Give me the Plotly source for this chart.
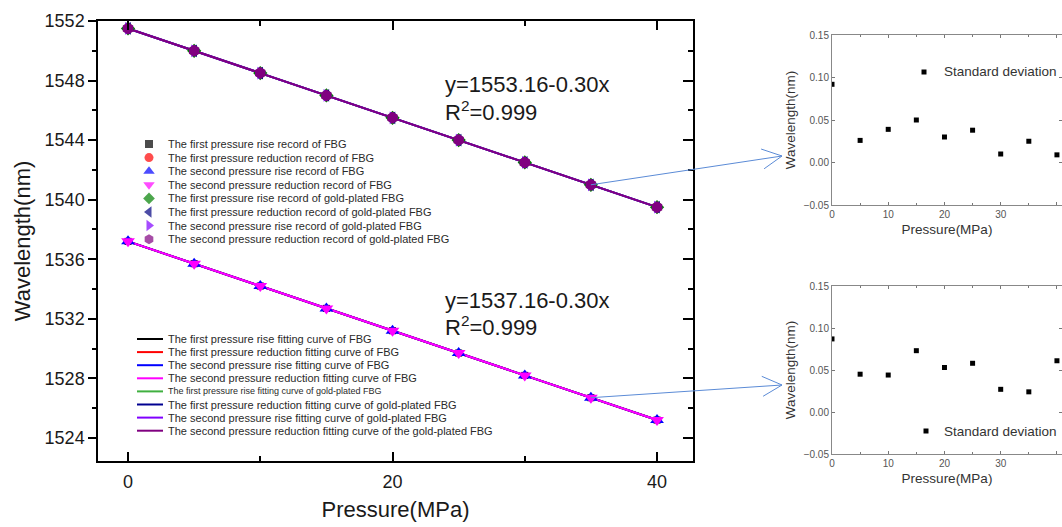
import math
import plotly.graph_objects as go

W, H = 1062, 527
FONT = "Liberation Sans, Arial, sans-serif"

# ---------------- data ----------------
pressure = [0, 5, 10, 15, 20, 25, 30, 35, 40]
fbg_wavelength = [1537.2, 1535.7, 1534.2, 1532.7, 1531.2, 1529.7, 1528.2, 1526.7, 1525.2]
gold_wavelength = [1551.5, 1550.0, 1548.5, 1547.0, 1545.5, 1544.0, 1542.5, 1541.0, 1539.5]
std_gold = [0.092, 0.026, 0.039, 0.050, 0.030, 0.038, 0.010, 0.025, 0.009]
std_fbg = [0.087, 0.045, 0.044, 0.073, 0.053, 0.058, 0.027, 0.024, 0.061]

record_names = [
    "The first pressure rise record of FBG",
    "The first pressure reduction record of FBG",
    "The second pressure rise record of FBG",
    "The second pressure reduction record of FBG",
    "The first pressure rise record of gold-plated FBG",
    "The first pressure reduction record of gold-plated FBG",
    "The second pressure rise record of gold-plated FBG",
    "The second pressure reduction record of gold-plated FBG",
]
fit_names = [
    "The first pressure rise fitting curve of FBG",
    "The first pressure reduction fitting curve of FBG",
    "The second pressure rise fitting curve of FBG",
    "The second pressure reduction fitting curve of FBG",
    "The first pressure rise fitting curve of gold-plated FBG",
    "The first pressure reduction fitting curve of gold-plated FBG",
    "The second pressure rise fitting curve of gold-plated FBG",
    "The second pressure reduction fitting curve of the gold-plated FBG",
]
record_symbols = ["square", "circle", "triangle-up", "triangle-down",
                  "diamond", "triangle-left", "triangle-right", "hexagon"]
record_colors = ["#000000", "#ff0000", "#0000ff", "#ff00ff",
                 "#008000", "#000080", "#8000ff", "#800080"]
fit_colors = ["#000000", "#ff0000", "#0000ff", "#ff00ff",
              "#40b040", "#000090", "#8000ff", "#800080"]
equations = ["y=1553.16-0.30x", "y=1537.16-0.30x"]
r_squared = ["R<sup>2</sup>=0.999", "R<sup>2</sup>=0.999"]
std_label = "Standard deviation"

# ---------------- layout geometry ----------------
ML, MR, MT, MB = 98, 693, 21, 461          # main plot frame (px)
X0, X1 = -2.27, 42.72
Y0, Y1 = 1522.45, 1552.0
IL, IR = 832, 1062                           # inset frames (px)
TOP_T, TOP_B = 35, 205
BOT_T, BOT_B = 286, 454


def px(x):
    return x / W


def py(y):
    return 1 - y / H


def main_px(x):
    return ML + (x - X0) / (X1 - X0) * (MR - ML)


def main_py(y):
    return MB - (y - Y0) / (Y1 - Y0) * (MB - MT)


fig = go.Figure()

groups = [fbg_wavelength] * 4 + [gold_wavelength] * 4

# fitting curves
for name, col, ys in zip(fit_names, fit_colors, groups):
    fig.add_trace(go.Scatter(x=pressure, y=ys, mode="lines", name=name,
                             line=dict(color=col, width=2), showlegend=False,
                             hoverinfo="skip"))
# records
sizes = [7, 7, 12, 12, 11, 11, 11, 12]
for name, sym, col, ys, sz in zip(record_names, record_symbols, record_colors, groups, sizes):
    fig.add_trace(go.Scatter(x=pressure, y=ys, mode="markers", name=name,
                             marker=dict(symbol=sym, color=col, size=sz, line=dict(width=0)),
                             showlegend=False))

# invisible trace carrying the right-hand mirror axis
fig.add_trace(go.Scatter(x=[pressure[0]], y=[gold_wavelength[0]], yaxis="y5", mode="markers",
                         marker=dict(opacity=0), showlegend=False, hoverinfo="skip"))

# insets
fig.add_trace(go.Scatter(x=pressure, y=std_gold, xaxis="x2", yaxis="y2", mode="markers",
                         marker=dict(symbol="square", color="black", size=5), showlegend=False))
fig.add_trace(go.Scatter(x=pressure, y=std_fbg, xaxis="x3", yaxis="y3", mode="markers",
                         marker=dict(symbol="square", color="black", size=5), showlegend=False))

# ---------------- custom legends (pixel overlay axis) ----------------
LEG1_X, LEG1_Y, LEG1_STEP = 149, 144, 13.6
LEG2_X0, LEG2_X1, LEG2_Y, LEG2_STEP = 137, 163, 339, 13.1
TEXT_X = 166
leg_marker_sizes = [8, 9, 10, 10, 9, 10, 10, 10]
fig.add_trace(go.Scatter(
    x=[LEG1_X] * len(record_names),
    y=[LEG1_Y + i * LEG1_STEP for i in range(len(record_names))],
    xaxis="x4", yaxis="y4", mode="markers",
    marker=dict(symbol=record_symbols, color=record_colors, size=leg_marker_sizes, line=dict(width=0)),
    showlegend=False, hoverinfo="skip"))
# inset legend markers
fig.add_trace(go.Scatter(x=[924, 926], y=[72, 431], xaxis="x4", yaxis="y4", mode="markers",
                         marker=dict(symbol="square", color="black", size=5),
                         showlegend=False, hoverinfo="skip"))

annotations = []
shapes = []
for i, name in enumerate(record_names):
    annotations.append(dict(x=px(TEXT_X), y=py(LEG1_Y + i * LEG1_STEP), xref="paper", yref="paper",
                            text=name, showarrow=False, xanchor="left", yanchor="middle",
                            font=dict(family=FONT, size=11, color="#2a2a2a")))
for i, (name, col) in enumerate(zip(fit_names, fit_colors)):
    yy = LEG2_Y + i * LEG2_STEP
    shapes.append(dict(type="line", xref="paper", yref="paper", x0=px(LEG2_X0), x1=px(LEG2_X1),
                       y0=py(yy), y1=py(yy), line=dict(color=col, width=2)))
    annotations.append(dict(x=px(TEXT_X), y=py(yy), xref="paper", yref="paper",
                            text=name, showarrow=False, xanchor="left", yanchor="middle",
                            font=dict(family=FONT, size=9 if i == 4 else 11, color="#2a2a2a")))

# equations
for eq, r2, ye in zip(equations, r_squared, [85, 300]):
    annotations.append(dict(x=px(443), y=py(ye), xref="paper", yref="paper", text=eq,
                            showarrow=False, xanchor="left", yanchor="middle",
                            font=dict(family=FONT, size=22, color="#1a1a1a")))
    annotations.append(dict(x=px(443), y=py(ye + 26), xref="paper", yref="paper", text=r2,
                            showarrow=False, xanchor="left", yanchor="middle",
                            font=dict(family=FONT, size=22, color="#1a1a1a")))

# inset legend texts
for yy in [72, 431]:
    annotations.append(dict(x=px(942), y=py(yy), xref="paper", yref="paper", text=std_label,
                            showarrow=False, xanchor="left", yanchor="middle",
                            font=dict(family=FONT, size=13.5, color="#333333")))

# arrows from the 35 MPa points to the insets
ARROW = "#5b8bd6"
for ys, tip in [(gold_wavelength, (782, 156)), (fbg_wavelength, (782, 385))]:
    sx, sy = main_px(pressure[7]), main_py(ys[7])
    tx, ty = tip
    shapes.append(dict(type="line", xref="paper", yref="paper", x0=px(sx), y0=py(sy),
                       x1=px(tx), y1=py(ty), line=dict(color=ARROW, width=1)))
    ang = math.atan2(ty - sy, tx - sx)
    for s in (1, -1):
        a = ang + math.pi + s * math.radians(27)
        hx, hy = tx + 22 * math.cos(a), ty + 22 * math.sin(a)
        shapes.append(dict(type="line", xref="paper", yref="paper", x0=px(hx), y0=py(hy),
                           x1=px(tx), y1=py(ty), line=dict(color=ARROW, width=1)))

inset_x = dict(range=[0, 40.9], tickvals=[0, 10, 20, 30, 40], ticks="inside", ticklen=3,
               tickcolor="#777", showline=True, linecolor="#888", linewidth=1, mirror="ticks",
               showgrid=False, zeroline=False,
               tickfont=dict(family=FONT, size=10, color="#555"),
               title=dict(text="Pressure(MPa)", font=dict(family=FONT, size=13.5, color="#333"),
                          standoff=5),
               automargin=False, minor=dict(tickvals=[5, 15, 25, 35], ticklen=2, ticks="inside",
                                            tickcolor="#777"))
inset_y = dict(range=[-0.05, 0.15], tickvals=[-0.05, 0.0, 0.05, 0.10, 0.15], tickformat=".2f",
               ticks="inside", ticklen=3, tickcolor="#777", showline=True, linecolor="#888",
               linewidth=1, mirror="ticks", showgrid=False, zeroline=False,
               tickfont=dict(family=FONT, size=10, color="#555"),
               title=dict(text="Wavelength(nm)", font=dict(family=FONT, size=13.5, color="#333"),
                          standoff=4),
               automargin=False)

fig.update_layout(
    width=W, height=H, margin=dict(l=0, r=0, t=0, b=0),
    paper_bgcolor="white", plot_bgcolor="rgba(0,0,0,0)",
    font=dict(family=FONT, color="#1a1a1a"),
    showlegend=False,
    xaxis=dict(domain=[px(ML), px(MR)], range=[X0, X1], anchor="y",
               tickvals=[0, 20, 40], ticks="inside", ticklen=9, tickwidth=1.5, tickcolor="black",
               minor=dict(tickvals=[10, 30], ticks="inside", ticklen=5, tickwidth=1.5, tickcolor="black"),
               showline=True, linecolor="black", linewidth=1.5, mirror="ticks",
               showgrid=False, zeroline=False, ticklabelstandoff=4,
               tickfont=dict(family=FONT, size=18, color="#1a1a1a"),
               title=dict(text="Pressure(MPa)", font=dict(family=FONT, size=22, color="#1a1a1a"),
                          standoff=10),
               automargin=False),
    yaxis=dict(domain=[py(MB), py(MT)], range=[Y0, Y1], anchor="x",
               tick0=1524, dtick=4, ticks="outside", ticklen=8, tickwidth=1.5, tickcolor="black",
               minor=dict(dtick=2, ticks="outside", ticklen=4, tickwidth=1.5, tickcolor="black"),
               showline=True, linecolor="black", linewidth=1.5, mirror=True,
               showgrid=False, zeroline=False,
               tickfont=dict(family=FONT, size=18, color="#1a1a1a"),
               title=dict(text="Wavelength(nm)", font=dict(family=FONT, size=22, color="#1a1a1a"),
                          standoff=8),
               automargin=False),
    yaxis5=dict(overlaying="y", side="right", anchor="x", range=[Y0, Y1], tick0=1524, dtick=4,
                ticks="inside", ticklen=10, tickwidth=1.5, tickcolor="black",
                minor=dict(dtick=2, ticks="inside", ticklen=5, tickwidth=1.5, tickcolor="black"),
                showticklabels=False, showline=False, showgrid=False, zeroline=False),
    xaxis2=dict(domain=[px(IL), px(IR)], anchor="y2", **inset_x),
    yaxis2=dict(domain=[py(TOP_B), py(TOP_T)], anchor="x2", **inset_y),
    xaxis3=dict(domain=[px(IL), px(IR)], anchor="y3", **inset_x),
    yaxis3=dict(domain=[py(BOT_B), py(BOT_T)], anchor="x3", **inset_y),
    xaxis4=dict(domain=[0, 1], range=[0, W], visible=False, anchor="y4"),
    yaxis4=dict(domain=[0, 1], range=[H, 0], visible=False, anchor="x4"),
    annotations=annotations,
    shapes=shapes,
)

fig.write_html("out.html")
